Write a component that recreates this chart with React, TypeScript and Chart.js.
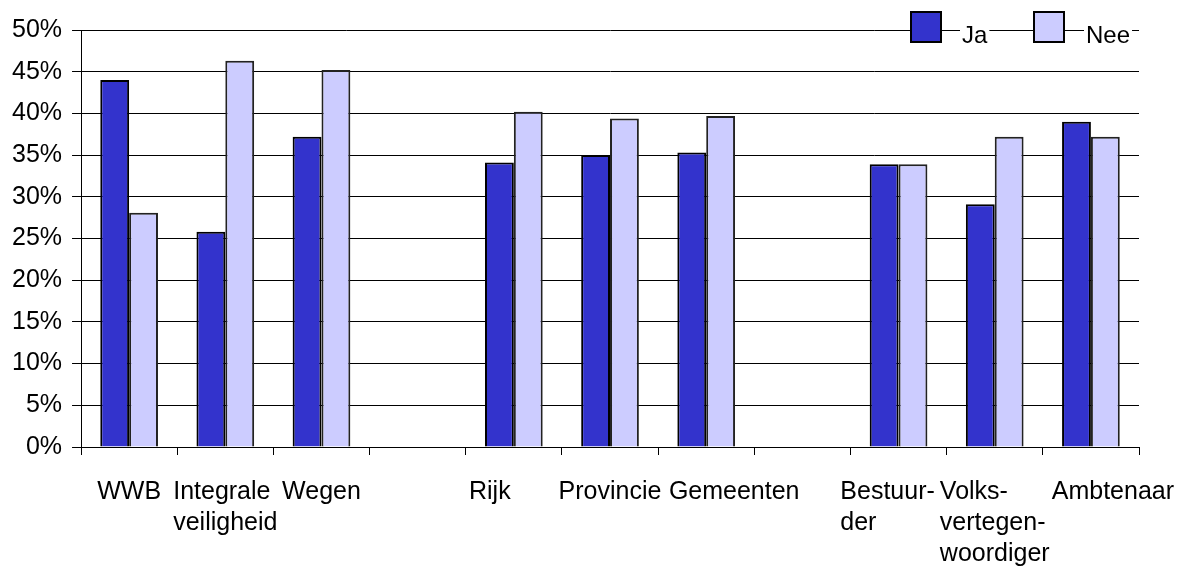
import React, { useEffect, useRef } from "react";
import { Chart, registerables } from "chart.js";

Chart.register(...registerables);

const categories: (string | string[])[] = [
  "WWB",
  ["Integrale", "veiligheid"],
  "Wegen",
  "",
  "Rijk",
  "Provincie",
  "Gemeenten",
  "",
  ["Bestuur-", "der"],
  ["Volks-", "vertegen-", "woordiger"],
  "Ambtenaar",
];

const jaValues: (number | null)[] = [44.0, 25.8, 37.2, null, 34.1, 35.0, 35.3, null, 33.9, 29.1, 39.0];
const neeValues: (number | null)[] = [28.1, 46.3, 45.2, null, 40.2, 39.4, 39.7, null, 33.9, 37.2, 37.2];

const seriesNames = ["Ja", "Nee"];
const yTicks = [0, 5, 10, 15, 20, 25, 30, 35, 40, 45, 50];

const FONT = "'Liberation Sans', Arial, sans-serif";
const JA_COLOR = "#3333CC";
const NEE_COLOR = "#CCCCFF";

// label placement nudges (px), mimicking the original's overlap avoidance
const labelNudge: Record<number, number> = { 4: -24, 6: 28, 8: -11, 10: 22 };

const xLabelPlugin = {
  id: "xLabels",
  afterDraw(chart: any) {
    const ctx = chart.ctx;
    const xs = chart.scales.x;
    const bottom = chart.chartArea.bottom;
    ctx.save();
    ctx.font = `25px ${FONT}`;
    ctx.fillStyle = "#000";
    ctx.textAlign = "left";
    ctx.textBaseline = "alphabetic";
    categories.forEach((lab, i) => {
      const lines = Array.isArray(lab) ? lab : [lab];
      if (!lines.join("")) return;
      const maxW = Math.max(...lines.map((l) => ctx.measureText(l).width));
      const cx = xs.getPixelForValue(i);
      const left = cx - maxW / 2 + (labelNudge[i] || 0);
      lines.forEach((l, j) => {
        ctx.fillText(l, left, bottom + 52 + j * 31);
      });
    });
    ctx.restore();
  },
};

const legendPlugin = {
  id: "customLegend",
  afterDraw(chart: any) {
    const ctx = chart.ctx;
    const right = chart.chartArea.right;
    const items = [
      { name: seriesNames[0], color: JA_COLOR, boxX: right - 228, textX: right - 177 },
      { name: seriesNames[1], color: NEE_COLOR, boxX: right - 105, textX: right - 53 },
    ];
    ctx.save();
    ctx.font = `24px ${FONT}`;
    ctx.textBaseline = "alphabetic";
    ctx.textAlign = "left";
    items.forEach((it) => {
      ctx.fillStyle = it.color;
      ctx.fillRect(it.boxX, 12, 30, 30);
      ctx.lineWidth = 2;
      ctx.strokeStyle = "#000";
      ctx.strokeRect(it.boxX, 12, 30, 30);
      const w = ctx.measureText(it.name).width;
      ctx.fillStyle = "#fff";
      ctx.fillRect(it.textX - 2, 24, w + 4, 22);
      ctx.fillStyle = "#000";
      ctx.fillText(it.name, it.textX, 43);
    });
    ctx.restore();
  },
};

export default function App() {
  const ref = useRef<HTMLCanvasElement | null>(null);

  useEffect(() => {
    document.body.style.margin = "0";
    const canvas = ref.current;
    if (!canvas) return;
    const chart = new Chart(canvas, {
      type: "bar",
      data: {
        labels: categories.map((c) => (Array.isArray(c) ? c.join(" ") : c)),
        datasets: [
          {
            label: seriesNames[0],
            data: jaValues,
            backgroundColor: JA_COLOR,
            borderColor: "#000",
            borderWidth: 2,
          },
          {
            label: seriesNames[1],
            data: neeValues,
            backgroundColor: NEE_COLOR,
            borderColor: "#222",
            borderWidth: 2,
          },
        ],
      },
      options: {
        responsive: false,
        animation: false,
        layout: { padding: { top: 30, right: 53, bottom: 111, left: 2 } },
        plugins: {
          legend: { display: false },
          tooltip: { enabled: false },
        },
        datasets: {
          bar: { categoryPercentage: 0.6, barPercentage: 1.0 },
        },
        scales: {
          x: {
            offset: true,
            grid: {
              display: true,
              drawOnChartArea: false,
              drawTicks: true,
              tickLength: 8,
              color: "#000",
              offset: true,
            },
            border: { display: true, color: "#000", width: 1 },
            ticks: { display: false },
          },
          y: {
            min: 0,
            max: 50,
            afterBuildTicks: (scale: any) => {
              scale.ticks = yTicks.map((v) => ({ value: v }));
            },
            grid: {
              color: "#000",
              lineWidth: 1,
              drawTicks: true,
              tickLength: 9,
            },
            border: { display: true, color: "#000", width: 1 },
            ticks: {
              padding: 10,
              color: "#000",
              font: { family: FONT, size: 25 },
              callback: (v: any) => `${v}%`,
            },
          },
        },
      },
      plugins: [xLabelPlugin, legendPlugin],
    });
    return () => chart.destroy();
  }, []);

  return (
    <div style={{ width: 1192, height: 566, background: "#fff" }}>
      <canvas ref={ref} width={1192} height={566} />
    </div>
  );
}
